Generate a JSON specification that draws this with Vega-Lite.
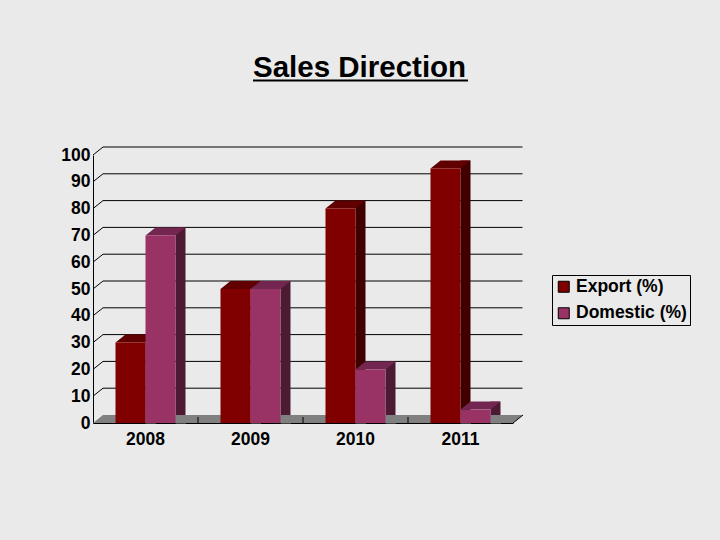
{
"$schema":"https://vega.github.io/schema/vega-lite/v6.json",
"width":420,"height":268,"autosize":{"type":"none"},
"padding":{"left":93,"top":155,"right":207,"bottom":117},
"background":"#eaeaea",
"config":{"view":{"stroke":null},"font":"Liberation Sans","axisY":{"labelOverlap":false,"labelSeparation":0,"labelBound":false,"labelFlush":false}},
"title":{"text":"Sales Direction","anchor":"start","frame":"group","dx":160,"offset":-7,"fontSize":29.5,"font":"Liberation Sans","fontWeight":"bold","color":"#000000"},
"data":{"values":[
{"year":"2008","series":"Export (%)","value":30},
{"year":"2008","series":"Domestic (%)","value":70},
{"year":"2009","series":"Export (%)","value":50},
{"year":"2009","series":"Domestic (%)","value":50},
{"year":"2010","series":"Export (%)","value":80},
{"year":"2010","series":"Domestic (%)","value":20},
{"year":"2011","series":"Export (%)","value":95},
{"year":"2011","series":"Domestic (%)","value":5}
]},
"layer":[
{"data":{"values":[{"tick":10},{"tick":20},{"tick":30},{"tick":40},{"tick":50},{"tick":60},{"tick":70},{"tick":80},{"tick":90},{"tick":100}]},
"mark":{"type":"point","shape":"M-52.5,0L-42.5,-8L377,-8","size":4,"filled":false,"stroke":"#000000","strokeWidth":1,"opacity":1,"fill":null},
"encoding":{
"x":{"datum":"2008","type":"nominal","scale":{"domain":["2008","2009","2010","2011"],"paddingInner":0.4286,"paddingOuter":0.2143},
"axis":{"title":null,"labelAngle":0,"labelFontSize":17.5,"labelFontWeight":"bold","labelColor":"#000000","ticks":false,"labelPadding":7,"domainColor":"#000000","domainWidth":1,"grid":false}},
"y":{"field":"tick","type":"quantitative","scale":{"domain":[0,100],"nice":false},
"axis":{"title":null,"values":[0,10,20,30,40,50,60,70,80,90,100],"tickCount":11,"labelOverlap":false,"labelFontSize":17.5,"labelFontWeight":"bold","labelColor":"#000000","ticks":false,"labelPadding":3,"domainColor":"#000000","domainWidth":1,"grid":false}}}},
{"data":{"values":[{"tick":0}]},
"mark":{"type":"point","shape":"M-52.5,0L367.5,0L377.5,-8L-42.5,-8Z","size":4,"filled":true,"fill":"#808080","strokeWidth":0,"opacity":1},
"encoding":{"x":{"datum":"2008","type":"nominal"},"y":{"field":"tick","type":"quantitative"}}},
{"data":{"values":[{"tick":0}]},
"mark":{"type":"point","shape":"M367.5,0L377.5,-8","size":4,"filled":false,"fill":null,"stroke":"#000000","strokeWidth":1,"opacity":1},
"encoding":{"x":{"datum":"2008","type":"nominal"},"y":{"field":"tick","type":"quantitative"}}},
{"data":{"values":[{"year":"2008","tick":0},{"year":"2009","tick":0},{"year":"2010","tick":0}]},
"mark":{"type":"point","shape":"M52.5,0L52.5,-6","size":4,"filled":false,"fill":null,"stroke":"#000000","strokeWidth":1,"opacity":1},
"encoding":{"x":{"field":"year","type":"nominal"},"y":{"field":"tick","type":"quantitative"}}},
{"transform":[{"filter":"datum.series === 'Export (%)'"}],
"mark":{"type":"bar","width":10,"xOffset":5,"yOffset":-8,"color":"#400000"},
"encoding":{"x":{"field":"year","type":"nominal"},"y":{"field":"value","type":"quantitative"}}},
{"transform":[{"filter":"datum.series === 'Domestic (%)'"}],
"mark":{"type":"bar","width":10,"xOffset":35,"yOffset":-8,"color":"#4c1a33"},
"encoding":{"x":{"field":"year","type":"nominal"},"y":{"field":"value","type":"quantitative"}}},
{"mark":{"type":"point","shape":"M15,0.5L25.5,-8L25.5,0.5Z","size":4,"filled":true,"fill":"#808080","strokeWidth":0,"opacity":1},
"encoding":{"x":{"field":"year","type":"nominal"},"xOffset":{"field":"series","type":"nominal","scale":{"domain":["Export (%)","Domestic (%)"],"paddingInner":0,"paddingOuter":0}},"y":{"datum":0,"type":"quantitative"}}},
{"mark":{"type":"point","shape":"M-15,0L15,0L25,-8L-5,-8Z","size":4,"filled":true,"strokeWidth":0,"opacity":1},
"encoding":{"x":{"field":"year","type":"nominal"},"xOffset":{"field":"series","type":"nominal"},"y":{"field":"value","type":"quantitative"},
"fill":{"field":"series","type":"nominal","scale":{"domain":["Export (%)","Domestic (%)"],"range":["#600000","#732650"]},"legend":null}}},
{"mark":{"type":"bar"},
"encoding":{"x":{"field":"year","type":"nominal"},"xOffset":{"field":"series","type":"nominal"},"y":{"field":"value","type":"quantitative"},
"color":{"field":"series","type":"nominal","scale":{"domain":["Export (%)","Domestic (%)"],"range":["#800000","#993366"]},
"legend":{"title":null,"orient":"none","legendX":459,"legendY":120,"symbolType":"square","symbolSize":121,"symbolStrokeColor":"#000000","symbolStrokeWidth":1,"symbolOpacity":1,"labelFontSize":17.5,"labelFontWeight":"bold","labelColor":"#000000","labelOffset":3.5,"rowPadding":7.5,"strokeColor":"#000000","padding":3,"labelLimit":200}}}},
{"data":{"values":[{"year":"2009","mark":127.8}]},
"mark":{"type":"point","shape":"M2.5,0L217.5,0","size":4,"filled":false,"fill":null,"stroke":"#000000","strokeWidth":2,"opacity":1},
"encoding":{"x":{"field":"year","type":"nominal"},"y":{"field":"mark","type":"quantitative"}}}
],
"resolve":{"scale":{"fill":"independent","color":"independent"}}
}
